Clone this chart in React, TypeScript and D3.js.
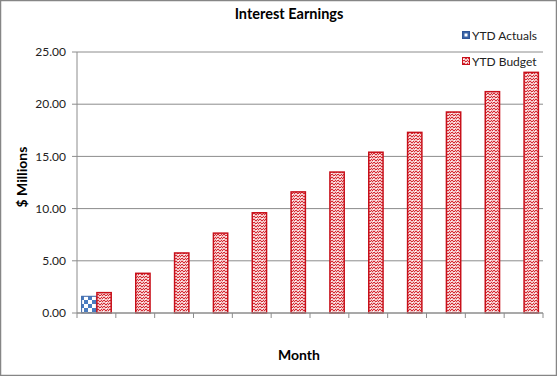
import React from "react";
import * as d3 from "d3";

const months = ["1","2","3","4","5","6","7","8","9","10","11","12"];
const actuals: (number | null)[] = [1.6, null, null, null, null, null, null, null, null, null, null, null];
const budget = [1.95, 3.8, 5.75, 7.65, 9.6, 11.6, 13.5, 15.4, 17.3, 19.25, 21.2, 23.05];
const yTicks = [0, 5, 10, 15, 20, 25];

const W = 557, H = 376;
const FONT = "Lato, 'Open Sans', sans-serif";

export default function App() {
  const x = d3.scaleBand<string>().domain(months).range([77, 543]).padding(0);
  const y = d3.scaleLinear().domain([0, 25]).range([313, 52]);
  const bw = 14.8;
  const grid = "#8c8c8c";

  return (
    <svg width={W} height={H} style={{ position: "absolute", left: 0, top: 0, background: "#fff" }} fontFamily={FONT}>
      <defs>
        <pattern id="check" width="8" height="8" patternUnits="userSpaceOnUse">
          <rect width="8" height="8" fill="#fff" />
          <rect width="4" height="4" fill="#4a7cc0" />
          <rect x="4" y="4" width="4" height="4" fill="#4a7cc0" />
        </pattern>
        <pattern id="weave" width="6" height="6" patternUnits="userSpaceOnUse">
          <rect width="6" height="6" fill="#f4c4c6" />
          <path d="M0,2 L2,0 L4,2 L6,0 M0,5 L2,3 L4,5 L6,3" stroke="#d42a32" strokeWidth="1" fill="none" />
          <rect x="1" y="5" width="1" height="1" fill="#fff" />
          <rect x="4" y="2" width="1" height="1" fill="#fff" />
        </pattern>
      </defs>
      <rect x={0.5} y={0.5} width={W - 1} height={H - 1} fill="#fff" stroke="#868686" strokeWidth={1.5} />
      <text x={289} y={19} textAnchor="middle" fontWeight="bold" fontSize={14.5} fill="#000">Interest Earnings</text>

      {yTicks.map((t) => (
        <g key={t}>
          {t > 0 && <line x1={77} x2={543} y1={y(t)} y2={y(t)} stroke={grid} strokeWidth={1} />}
          <line x1={72} x2={77} y1={y(t)} y2={y(t)} stroke={grid} />
          <text x={66} y={y(t)} dy="0.35em" textAnchor="end" fontSize={12} fill="#222">{t.toFixed(2)}</text>
        </g>
      ))}
      <line x1={77} x2={77} y1={52} y2={313} stroke={grid} />

      {months.map((m, i) => {
        const cx = (x(m) as number) + x.bandwidth() / 2;
        const a = actuals[i];
        const b = budget[i];
        return (
          <g key={m}>
            {a != null && (
              <rect x={cx - bw} y={y(a)} width={bw} height={y(0) - y(a)} fill="url(#check)" stroke="#3a64a6" strokeWidth={1} />
            )}
            <rect x={cx + 0.5} y={y(b)} width={bw - 0.5} height={y(0) - y(b)} fill="url(#weave)" stroke="#c8101a" strokeWidth={1.5} />
          </g>
        );
      })}

      <line x1={77} x2={543} y1={313} y2={313} stroke={grid} strokeWidth={1.5} />
      {months.map((m) => (
        <line key={m} x1={(x(m) as number)} x2={(x(m) as number)} y1={313} y2={318} stroke={grid} />
      ))}
      <line x1={543} x2={543} y1={313} y2={318} stroke={grid} />

      <text transform="translate(27,177) rotate(-90)" textAnchor="middle" fontWeight="bold" fontSize={14} fill="#000">$ Millions</text>
      <text x={299} y={360} textAnchor="middle" fontWeight="bold" fontSize={14} fill="#000">Month</text>

      <rect x={462.5} y={31.5} width={7} height={7} fill="#3a64a6" stroke="#2f5597" />
      <rect x={464.5} y={33.5} width={3} height={3} fill="#fff" />
      <text x={472} y={35.5} dy="0.35em" fontSize={12} fill="#222">YTD Actuals</text>
      <rect x={462.5} y={57.5} width={7} height={7} fill="url(#weave)" stroke="#c8101a" />
      <text x={472} y={61.5} dy="0.35em" fontSize={12} fill="#222">YTD Budget</text>
    </svg>
  );
}
